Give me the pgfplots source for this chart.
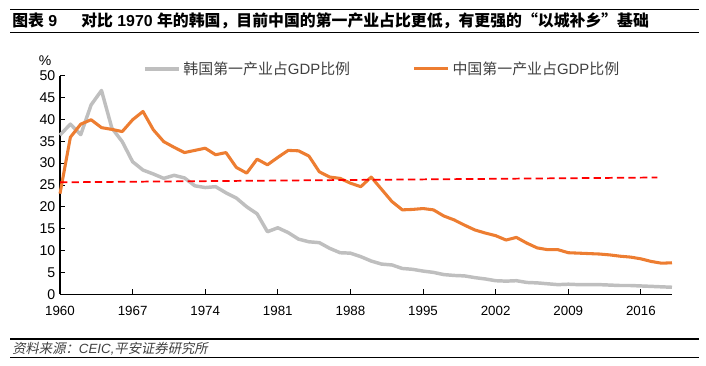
\documentclass[border=0pt]{standalone}
\usepackage{fontspec}
\setmainfont{Liberation Sans}
\newfontfamily\cjk{Noto Sans CJK SC}
\newfontfamily\cjkit[FakeSlant=0.2]{Noto Sans CJK SC}
\usepackage{pgfplots}
\pgfplotsset{compat=1.18}
\definecolor{kgray}{HTML}{BFBFBF}
\definecolor{corange}{HTML}{ED7D31}
\definecolor{txtgray}{HTML}{404040}
\begin{document}
\begin{tikzpicture}
\useasboundingbox (0,0) rectangle (529.5pt,274.5pt);
\begin{axis}[
  at={(45pt,53.8pt)}, anchor=south west,
  scale only axis, width=459pt, height=164pt,
  xmin=1960, xmax=2019, ymin=0, ymax=50,
  axis x line=bottom, axis y line=left,
  axis line style={-, black, line width=0.8pt},
  xtick={1960,1967,1974,1981,1988,1995,2002,2009,2016},
  ytick={0,5,...,50},
  tick align=inside,
  major tick length=4pt,
  tick style={black, line width=0.6pt},
  x tick label style={font=\fontsize{10}{12}\selectfont, yshift=-5.5pt},
  y tick label style={font=\fontsize{10.6}{12}\selectfont},
  /pgf/number format/assume math mode=true,
  xticklabel={\pgfmathprintnumber[1000 sep={}]{\tick}},
  clip=false,
  legend columns=2,
  legend style={at={(rel axis cs:0.1356,1.031)}, anchor=west, draw=none, fill=none,
    inner sep=0pt, font=\fontsize{11.2}{12}\selectfont\color{txtgray},
    /tikz/every even column/.append style={column sep=45pt}},
  legend cell align=left,
  legend image code/.code={\draw[#1] (0pt,0pt) -- (25.5pt,0pt);},
]
\addplot[kgray, line width=2.6pt, line join=round] coordinates {
(1960,36.4)(1961,38.9)(1962,36.5)(1963,43.3)(1964,46.6)(1965,38.0)(1966,34.9)(1967,30.3)(1968,28.4)(1969,27.5)
(1970,26.5)(1971,27.2)(1972,26.6)(1973,24.8)(1974,24.4)(1975,24.6)(1976,23.2)(1977,22.0)(1978,20.0)(1979,18.4)
(1980,14.3)(1981,15.2)(1982,14.1)(1983,12.6)(1984,12.0)(1985,11.8)(1986,10.5)(1987,9.5)(1988,9.4)(1989,8.6)
(1990,7.6)(1991,6.9)(1992,6.7)(1993,5.9)(1994,5.7)(1995,5.3)(1996,5.0)(1997,4.5)(1998,4.3)(1999,4.2)
(2000,3.8)(2001,3.5)(2002,3.1)(2003,3.0)(2004,3.1)(2005,2.7)(2006,2.6)(2007,2.4)(2008,2.2)(2009,2.3)
(2010,2.2)(2011,2.2)(2012,2.2)(2013,2.1)(2014,2.0)(2015,2.0)(2016,1.9)(2017,1.8)(2018,1.7)(2019,1.6)
};
\addlegendentry{{\cjk 韩国第一产业占}GDP{\cjk 比例}}
\addplot[corange, line width=2.3pt, line join=round] coordinates {
(1960,23.0)(1961,35.9)(1962,38.9)(1963,39.9)(1964,38.1)(1965,37.7)(1966,37.2)(1967,39.9)(1968,41.8)(1969,37.6)
(1970,34.9)(1971,33.6)(1972,32.4)(1973,32.9)(1974,33.4)(1975,31.9)(1976,32.4)(1977,29.0)(1978,27.7)(1979,30.9)
(1980,29.6)(1981,31.3)(1982,32.9)(1983,32.8)(1984,31.6)(1985,28.0)(1986,26.8)(1987,26.5)(1988,25.4)(1989,24.6)
(1990,26.8)(1991,24.0)(1992,21.2)(1993,19.3)(1994,19.4)(1995,19.6)(1996,19.3)(1997,17.9)(1998,17.0)(1999,15.8)
(2000,14.7)(2001,14.0)(2002,13.4)(2003,12.4)(2004,13.0)(2005,11.7)(2006,10.6)(2007,10.2)(2008,10.2)(2009,9.5)
(2010,9.4)(2011,9.3)(2012,9.2)(2013,9.0)(2014,8.7)(2015,8.5)(2016,8.1)(2017,7.5)(2018,7.1)(2019,7.2)
};
\addlegendentry{{\cjk 中国第一产业占}GDP{\cjk 比例}}
\addplot[red, line width=1.3pt, dash pattern=on 5.5pt off 3.2pt, forget plot] coordinates {(1960,25.6)(2017.6,26.7)};
\end{axis}
\begin{scope}[x=0.75pt,y=-0.75pt,yshift=274.5pt]
\draw[line width=1pt] (10,9.3) -- (699,9.3);
\draw[line width=0.8pt] (10,32.3) -- (699,32.3);
\node[anchor=west, inner sep=0pt, font=\fontsize{11.9}{13}\selectfont\bfseries] at (12,20.8) {{\cjk\bfseries 图表} 9};
\node[anchor=west, inner sep=0pt, font=\fontsize{11.9}{13}\selectfont\bfseries] at (81,20.8) {{\cjk\bfseries 对比} 1970 {\cjk\bfseries 年的韩国，目前中国的第一产业占比更低，有更强的“以城补乡”基础}};
\node[font=\fontsize{10.5}{12}\selectfont] at (45,61) {\%};
\draw[line width=0.8pt] (10,339) -- (699,339);
\draw[line width=0.8pt] (10,357.7) -- (699,357.7);
\node[anchor=west, inner sep=0pt, font=\fontsize{10}{11}\selectfont\color{txtgray}] at (12,348.3) {{\cjkit 资料来源：}\textit{CEIC,}{\cjkit 平安证券研究所}};
\end{scope}
\end{tikzpicture}
\end{document}
